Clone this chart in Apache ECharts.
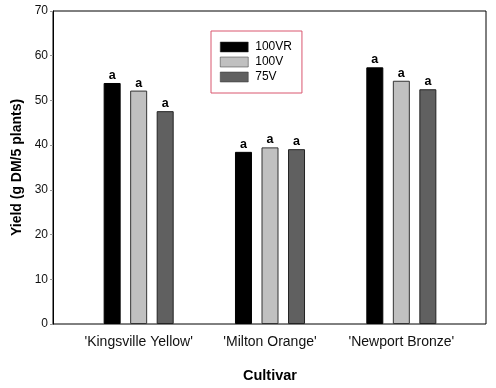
<!DOCTYPE html>
<html><head><meta charset="utf-8">
<script src="https://cdn.jsdelivr.net/npm/echarts@6/dist/echarts.min.js"></script>
<style>html,body{margin:0;padding:0;background:#fff}#c{width:496px;height:388px}</style>
</head><body><div id="c"></div>
<script>
const categories = ["'Kingsville Yellow'", "'Milton Orange'", "'Newport Bronze'"];
const s100VR = [53.9, 38.5, 57.4];
const s100V = [52.2, 39.5, 54.4];
const s75V = [47.6, 39.1, 52.5];
const sigLetters100VR = ['a', 'a', 'a'];
const sigLetters100V = ['a', 'a', 'a'];
const sigLetters75V = ['a', 'a', 'a'];
const yTicks = [0, 10, 20, 30, 40, 50, 60, 70];

const FONT = 'Liberation Sans, Arial, sans-serif';
const chart = echarts.init(document.getElementById('c'));
function mk(name, data, letters, color, border) {
  return {
    name, type: 'bar', xAxisIndex: 1, yAxisIndex: 1, data,
    barWidth: 17, barGap: '56%',
    itemStyle: { color, borderColor: border, borderWidth: 1 },
    label: { show: true, position: 'top', distance: 1,
      formatter: p => letters[p.dataIndex],
      fontFamily: FONT, fontWeight: 'bold', fontSize: 12.5, color: '#000' }
  };
}
chart.setOption({
  animation: false,
  backgroundColor: '#fff',
  grid: [
    { left: 53, right: 10, top: 11, bottom: 64, show: true, borderColor: '#000', borderWidth: 1, backgroundColor: 'transparent' },
    { left: 73, right: 29, top: 11, bottom: 64 }
  ],
  legend: {
    orient: 'vertical', left: 211, top: 31,
    padding: [10, 10, 10, 9],
    borderColor: '#d9566f', borderWidth: 1,
    icon: 'rect',
    itemWidth: 28, itemHeight: 10, itemGap: 3, itemStyle: { borderWidth: 0.5, borderColor: '#333' },
    textStyle: { fontFamily: FONT, fontSize: 12, color: '#000', padding: [0, 0, 0, 2] },
    data: ['100VR', '100V', '75V']
  },
  xAxis: [
    { type: 'value', gridIndex: 0, min: 0, max: 1, show: false },
    { type: 'category', gridIndex: 1, data: categories,
      axisLine: { show: false }, axisTick: { show: false },
      axisLabel: { interval: 0, hideOverlap: false, fontFamily: FONT, fontSize: 14, color: '#111', margin: 11 },
      name: 'Cultivar', nameLocation: 'middle', nameGap: 44,
      nameTextStyle: { fontFamily: FONT, fontSize: 14.5, fontWeight: 'bold', color: '#000' } }
  ],
  yAxis: [
    { type: 'value', gridIndex: 0, min: 0, max: 70, interval: 10,
      axisLine: { show: true, lineStyle: { color: '#000' } },
      axisTick: { show: true, length: 3, lineStyle: { color: '#999' } },
      splitLine: { show: false },
      axisLabel: { fontFamily: FONT, fontSize: 12, color: '#111', margin: 5,
        formatter: v => yTicks.includes(v) ? String(v) : '' },
      name: 'Yield (g DM/5 plants)', nameLocation: 'middle', nameGap: 29, nameRotate: 90,
      nameTextStyle: { fontFamily: FONT, fontSize: 14, fontWeight: 'bold', color: '#000' } },
    { type: 'value', gridIndex: 1, min: 0, max: 70, show: false }
  ],
  series: [
    mk('100VR', s100VR, sigLetters100VR, '#000000', '#000000'),
    mk('100V', s100V, sigLetters100V, '#c0c0c0', '#333333'),
    mk('75V', s75V, sigLetters75V, '#606060', '#222222')
  ]
});
</script></body></html>
